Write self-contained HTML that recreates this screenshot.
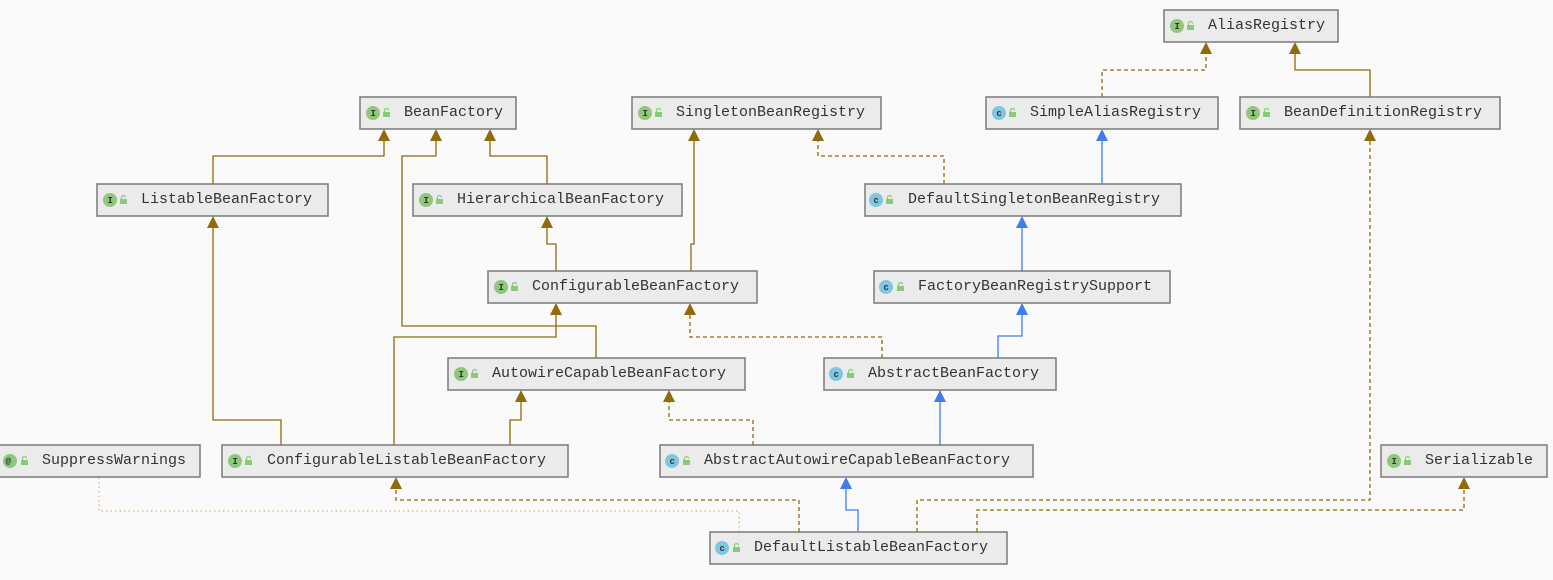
<!DOCTYPE html>
<html><head><meta charset="utf-8"><style>
html,body{margin:0;padding:0;background:#fafafa;}
svg{display:block;}
.n rect.b{fill:#ebebeb;stroke:#7a7a7a;stroke-width:1.5;}
text.t{font-family:"Liberation Mono",monospace;font-size:15px;fill:#333;transform:translateY(-2px);}
text.i{font-family:"Liberation Mono",monospace;font-size:9px;fill:#333;font-weight:bold;}
.br{stroke:#94690a;stroke-width:1.3;fill:none;}
.bd{stroke:#94690a;stroke-width:1.3;fill:none;stroke-dasharray:4 3;}
.bl{stroke:#3f7cf2;stroke-width:1.3;fill:none;}
.dt{stroke:#d8b27a;stroke-width:1.2;fill:none;stroke-dasharray:1.5 3;}
.ab{fill:#94690a;}
.aB{fill:#3f7cf2;}
</style></head><body>
<svg width="1553" height="580" xmlns="http://www.w3.org/2000/svg">
<defs>
<g id="lk"><rect x="0" y="3" width="7" height="5" fill="#8cc87a"/><path d="M1.5 3 V1.5 a2 2 0 0 1 4 0" stroke="#8cc87a" stroke-width="1.2" fill="none"/></g>
</defs>
<!-- edges -->
<polyline class="bd" points="1102,97 1102,70 1206,70 1206,52"/>
<polyline class="br" points="1370,97 1370,70 1295,70 1295,52"/>
<polyline class="br" points="213,184 213,156 384,156 384,139"/>
<polyline class="br" points="596,358 596,326 402,326 402,156 436,156 436,139"/>
<polyline class="br" points="547,184 547,156 490,156 490,139"/>
<polyline class="br" points="556,271 556,244 547,244 547,226"/>
<polyline class="br" points="691,271 691,244 694,244 694,139"/>
<polyline class="bd" points="944,184 944,156 818,156 818,139"/>
<polyline class="bl" points="1102,184 1102,139"/>
<polyline class="bl" points="1022,271 1022,226"/>
<polyline class="bl" points="998,358 998,336 1022,336 1022,313"/>
<polyline class="bd" points="882,358 882,337 690,337 690,313"/>
<polyline class="br" points="281,445 281,420 213,420 213,226"/>
<polyline class="br" points="394,445 394,337 556,337 556,313"/>
<polyline class="br" points="510,445 510,420 521,420 521,400"/>
<polyline class="bd" points="753,445 753,420 669,420 669,400"/>
<polyline class="bl" points="940,445 940,400"/>
<polyline class="bl" points="858,532 858,510 846,510 846,487"/>
<polyline class="bd" points="799,532 799,500 396,500 396,487"/>
<polyline class="bd" points="917,532 917,500 1370,500 1370,139"/>
<polyline class="bd" points="977,532 977,510 1464,510 1464,487"/>
<polyline class="dt" points="739,532 739,511 99,511 99,477"/>
<!-- arrowheads -->
<g class="ab">
<polygon points="1206,42 1200,54 1212,54"/>
<polygon points="1295,42 1289,54 1301,54"/>
<polygon points="384,129 378,141 390,141"/>
<polygon points="436,129 430,141 442,141"/>
<polygon points="490,129 484,141 496,141"/>
<polygon points="547,216 541,228 553,228"/>
<polygon points="694,129 688,141 700,141"/>
<polygon points="818,129 812,141 824,141"/>
<polygon points="690,303 684,315 696,315"/>
<polygon points="213,216 207,228 219,228"/>
<polygon points="556,303 550,315 562,315"/>
<polygon points="521,390 515,402 527,402"/>
<polygon points="669,390 663,402 675,402"/>
<polygon points="396,477 390,489 402,489"/>
<polygon points="1370,129 1364,141 1376,141"/>
<polygon points="1464,477 1458,489 1470,489"/>
</g>
<g class="aB">
<polygon points="1102,129 1096,141 1108,141"/>
<polygon points="1022,216 1016,228 1028,228"/>
<polygon points="1022,303 1016,315 1028,315"/>
<polygon points="940,390 934,402 946,402"/>
<polygon points="846,477 840,489 852,489"/>
</g>
<!-- nodes -->
<g class="n">
<rect class="b" x="1164" y="10" width="174" height="32"/><circle cx="1177" cy="26" r="7" fill="#8fc77b"/><text class="i" x="1174.5" y="29">I</text><use href="#lk" x="1187" y="22"/><text class="t" x="1208" y="31">AliasRegistry</text>

<rect class="b" x="360" y="97" width="156" height="32"/><circle cx="373" cy="113" r="7" fill="#8fc77b"/><text class="i" x="370.5" y="116">I</text><use href="#lk" x="383" y="109"/><text class="t" x="404" y="118">BeanFactory</text>

<rect class="b" x="632" y="97" width="249" height="32"/><circle cx="645" cy="113" r="7" fill="#8fc77b"/><text class="i" x="642.5" y="116">I</text><use href="#lk" x="655" y="109"/><text class="t" x="676" y="118">SingletonBeanRegistry</text>

<rect class="b" x="986" y="97" width="232" height="32"/><circle cx="999" cy="113" r="7" fill="#7fc6e0"/><text class="i" x="996.5" y="116">c</text><use href="#lk" x="1009" y="109"/><text class="t" x="1030" y="118">SimpleAliasRegistry</text>

<rect class="b" x="1240" y="97" width="260" height="32"/><circle cx="1253" cy="113" r="7" fill="#8fc77b"/><text class="i" x="1250.5" y="116">I</text><use href="#lk" x="1263" y="109"/><text class="t" x="1284" y="118">BeanDefinitionRegistry</text>

<rect class="b" x="97" y="184" width="231" height="32"/><circle cx="110" cy="200" r="7" fill="#8fc77b"/><text class="i" x="107.5" y="203">I</text><use href="#lk" x="120" y="196"/><text class="t" x="141" y="205">ListableBeanFactory</text>

<rect class="b" x="413" y="184" width="269" height="32"/><circle cx="426" cy="200" r="7" fill="#8fc77b"/><text class="i" x="423.5" y="203">I</text><use href="#lk" x="436" y="196"/><text class="t" x="457" y="205">HierarchicalBeanFactory</text>

<rect class="b" x="865" y="184" width="316" height="32"/><circle cx="876" cy="200" r="7" fill="#7fc6e0"/><text class="i" x="873.5" y="203">c</text><use href="#lk" x="886" y="196"/><text class="t" x="908" y="205">DefaultSingletonBeanRegistry</text>

<rect class="b" x="488" y="271" width="269" height="32"/><circle cx="501" cy="287" r="7" fill="#8fc77b"/><text class="i" x="498.5" y="290">I</text><use href="#lk" x="511" y="283"/><text class="t" x="532" y="292">ConfigurableBeanFactory</text>

<rect class="b" x="874" y="271" width="296" height="32"/><circle cx="886" cy="287" r="7" fill="#7fc6e0"/><text class="i" x="883.5" y="290">c</text><use href="#lk" x="897" y="283"/><text class="t" x="918" y="292">FactoryBeanRegistrySupport</text>

<rect class="b" x="448" y="358" width="297" height="32"/><circle cx="461" cy="374" r="7" fill="#8fc77b"/><text class="i" x="458.5" y="377">I</text><use href="#lk" x="471" y="370"/><text class="t" x="492" y="379">AutowireCapableBeanFactory</text>

<rect class="b" x="824" y="358" width="232" height="32"/><circle cx="836" cy="374" r="7" fill="#7fc6e0"/><text class="i" x="833.5" y="377">c</text><use href="#lk" x="847" y="370"/><text class="t" x="868" y="379">AbstractBeanFactory</text>

<rect class="b" x="-2" y="445" width="202" height="32"/><circle cx="10" cy="461" r="7" fill="#8fc77b"/><text class="i" x="5.5" y="464">@</text><use href="#lk" x="21" y="457"/><text class="t" x="42" y="466">SuppressWarnings</text>

<rect class="b" x="222" y="445" width="346" height="32"/><circle cx="235" cy="461" r="7" fill="#8fc77b"/><text class="i" x="232.5" y="464">I</text><use href="#lk" x="245" y="457"/><text class="t" x="267" y="466">ConfigurableListableBeanFactory</text>

<rect class="b" x="660" y="445" width="373" height="32"/><circle cx="672" cy="461" r="7" fill="#7fc6e0"/><text class="i" x="669.5" y="464">c</text><use href="#lk" x="683" y="457"/><text class="t" x="704" y="466">AbstractAutowireCapableBeanFactory</text>

<rect class="b" x="1381" y="445" width="166" height="32"/><circle cx="1394" cy="461" r="7" fill="#8fc77b"/><text class="i" x="1391.5" y="464">I</text><use href="#lk" x="1404" y="457"/><text class="t" x="1425" y="466">Serializable</text>

<rect class="b" x="710" y="532" width="297" height="32"/><circle cx="722" cy="548" r="7" fill="#7fc6e0"/><text class="i" x="719.5" y="551">c</text><use href="#lk" x="733" y="544"/><text class="t" x="754" y="553">DefaultListableBeanFactory</text>
</g>
</svg>
</body></html>
